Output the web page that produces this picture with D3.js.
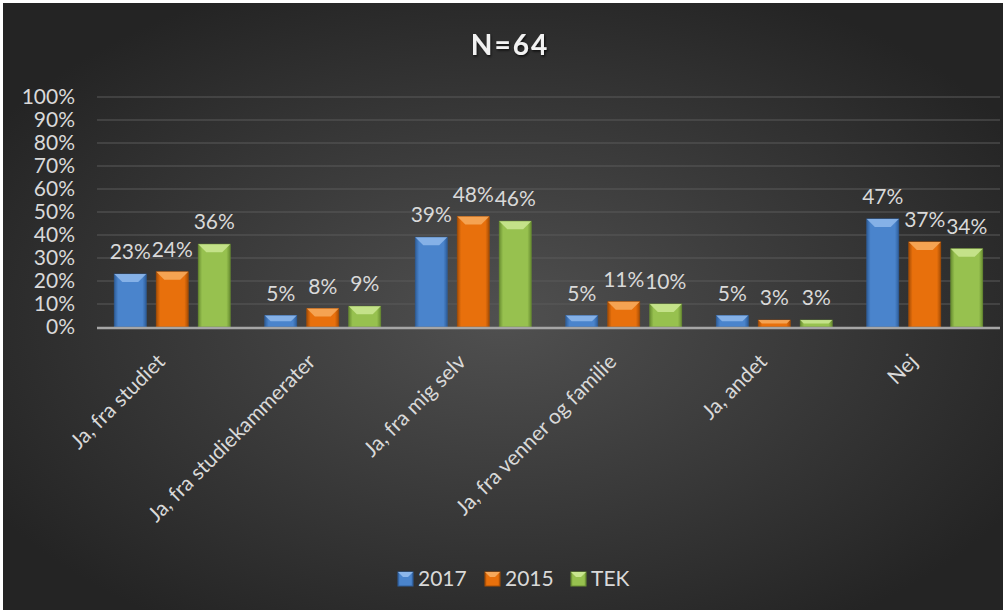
<!DOCTYPE html>
<html>
<head>
<meta charset="utf-8">
<script src="https://cdn.jsdelivr.net/npm/d3@7"></script>
<style>
  body { margin: 0; background: #fff; }
  text { font-family: Lato, "Open Sans", sans-serif; }
</style>
</head>
<body>
<div id="chart"></div>
<script>
var categories = ["Ja, fra studiet", "Ja, fra studiekammerater", "Ja, fra mig selv",
                  "Ja, fra venner og familie", "Ja, andet", "Nej"];
var seriesNames = ["2017", "2015", "TEK"];
var values2017 = [23, 5, 39, 5, 5, 47];
var values2015 = [24, 8, 48, 11, 3, 37];
var valuesTek  = [36, 9, 46, 10, 3, 34];
var yTicks = [0, 10, 20, 30, 40, 50, 60, 70, 80, 90, 100];

var series = [values2017, values2015, valuesTek];
var colors = [
  {base: "#4a84cc", light: "#8cb6ea", dark: "#2f5f9c"},
  {base: "#e8700c", light: "#f6a85a", dark: "#a84e05"},
  {base: "#97c14f", light: "#c9e68f", dark: "#6a8f32"}
];

var width = 1005, height = 613;
var margin = {left: 97, right: 5, top: 97, bottom: 286};
var fs = "21px";

var svg = d3.select("#chart").append("svg")
  .attr("width", width).attr("height", height);

var defs = svg.append("defs");
var bg = defs.append("radialGradient").attr("id", "bg")
  .attr("cx", "50%").attr("cy", "52%").attr("r", "60%");
bg.append("stop").attr("offset", "0%").attr("stop-color", "#505050");
bg.append("stop").attr("offset", "100%").attr("stop-color", "#242424");

colors.forEach(function (c, i) {
  var g = defs.append("linearGradient").attr("id", "bar" + i)
    .attr("x1", "0%").attr("x2", "100%").attr("y1", "0%").attr("y2", "0%");
  g.append("stop").attr("offset", "0%").attr("stop-color", c.dark);
  g.append("stop").attr("offset", "12%").attr("stop-color", c.base);
  g.append("stop").attr("offset", "88%").attr("stop-color", c.base);
  g.append("stop").attr("offset", "100%").attr("stop-color", c.dark);
});

var sh = defs.append("filter").attr("id", "shadow");
sh.append("feDropShadow").attr("dx", 1).attr("dy", 1.5).attr("stdDeviation", 1.2)
  .attr("flood-color", "#000").attr("flood-opacity", 0.7);

svg.append("rect")
  .attr("x", 3).attr("y", 3).attr("width", 1000).attr("height", 607)
  .attr("fill", "url(#bg)");

var x0 = d3.scaleBand().domain(categories)
  .range([margin.left, width - margin.right]).paddingInner(0.23).paddingOuter(0.115);
var x1 = d3.scaleBand().domain(d3.range(3))
  .range([0, x0.bandwidth()]).paddingInner(0.24);
var y = d3.scaleLinear().domain([0, 100]).range([height - margin.bottom, margin.top]);

// gridlines
svg.append("g")
  .selectAll("line").data(yTicks.slice(1)).enter().append("line")
  .attr("x1", margin.left).attr("x2", width - margin.right)
  .attr("y1", function (d) { return y(d); }).attr("y2", function (d) { return y(d); })
  .attr("stroke", "#5a5a5a").attr("stroke-width", 1.2);

// y axis labels
var yAxis = d3.axisLeft(y).tickValues(yTicks).tickSize(0).tickPadding(22)
  .tickFormat(function (d) { return d + "%"; });
var ya = svg.append("g").attr("transform", "translate(" + margin.left + ",0)").call(yAxis);
ya.select(".domain").remove();
ya.selectAll("text").attr("fill", "#d9d9d9").style("font-size", fs)
  .attr("text-anchor", "end");

// bars
var groups = svg.append("g").selectAll("g").data(categories).enter().append("g")
  .attr("transform", function (d) { return "translate(" + x0(d) + ",0)"; });

groups.each(function (cat, ci) {
  var g = d3.select(this);
  series.forEach(function (vals, si) {
    var v = vals[ci];
    var bx = x1(si), bw = x1.bandwidth();
    var top = y(v), bot = y(0);
    var bev = Math.min(8, (bot - top) / 2);
    g.append("rect")
      .attr("x", bx).attr("y", top).attr("width", bw).attr("height", bot - top)
      .attr("fill", "url(#bar" + si + ")")
      .attr("stroke", colors[si].dark).attr("stroke-width", 0.8);
    g.append("path")
      .attr("d", "M" + bx + "," + top + "L" + (bx + bw) + "," + top +
                 "L" + (bx + bw - bev) + "," + (top + bev) + "L" + (bx + bev) + "," + (top + bev) + "Z")
      .attr("fill", colors[si].light).attr("opacity", 0.9);
    g.append("text")
      .attr("x", bx + bw / 2).attr("y", top - 15)
      .attr("text-anchor", "middle")
      .attr("fill", "#d9d9d9").style("font-size", fs)
      .text(v + "%");
  });
});

// baseline
svg.append("line")
  .attr("x1", margin.left).attr("x2", width - margin.right)
  .attr("y1", y(0) + 1).attr("y2", y(0) + 1)
  .attr("stroke", "#a6a6a6").attr("stroke-width", 2.5);

// category labels
var xAxis = d3.axisBottom(x0).tickSize(0).tickPadding(0);
var xa = svg.append("g").attr("transform", "translate(0," + y(0) + ")").call(xAxis);
xa.select(".domain").remove();
xa.selectAll("text")
  .attr("fill", "#d9d9d9").style("font-size", fs)
  .attr("text-anchor", "end")
  .attr("y", 0).attr("dy", 0)
  .attr("transform", "translate(-6,36) rotate(-45)");

// title
svg.append("text")
  .attr("x", 510).attr("y", 55).attr("text-anchor", "middle")
  .attr("fill", "#f2f2f2").style("font-size", "28px").style("font-weight", "bold")
  .style("letter-spacing", "2px")
  .attr("filter", "url(#shadow)")
  .text("N=64");

// legend
var legendX = [398, 485, 571];
var legend = svg.append("g").selectAll("g").data(seriesNames).enter().append("g")
  .attr("transform", function (d, i) { return "translate(" + legendX[i] + ",572)"; });
legend.append("rect")
  .attr("width", 15).attr("height", 14)
  .attr("fill", function (d, i) { return "url(#bar" + i + ")"; })
  .attr("stroke", function (d, i) { return colors[i].dark; });
legend.append("path")
  .attr("d", "M0,0L15,0L10,5L5,5Z")
  .attr("fill", function (d, i) { return colors[i].light; });
legend.append("text")
  .attr("x", 20).attr("y", 7).attr("dy", "0.35em")
  .attr("fill", "#d9d9d9").style("font-size", fs)
  .text(function (d) { return d; });
</script>
</body>
</html>
